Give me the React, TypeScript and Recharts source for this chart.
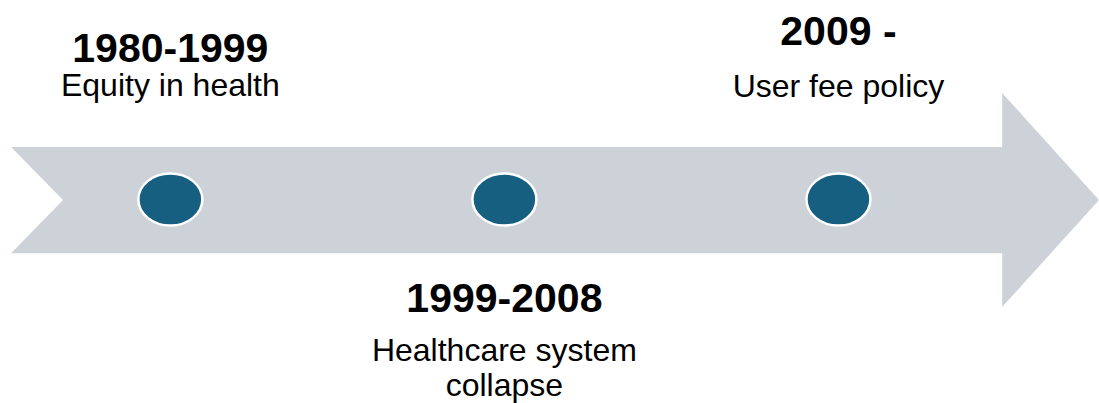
import { ComposedChart, Scatter, XAxis, YAxis, ReferenceArea } from "recharts";

// timeline milestones
const periods = ["1980-1999", "1999-2008", "2009 -"];
const descriptions = [["Equity in health"], ["Healthcare system", "collapse"], ["User fee policy"]];
const slots = [0, 1, 2];

const milestones = slots.map((slot, i) => ({
  slot,
  level: 0,
  period: periods[i],
  desc: descriptions[i],
}));

const ARROW = "#CDD2D9";
const DOT = "#175F81";
const FONT = "'Liberation Sans', Arial, sans-serif";

// label placement per milestone: title baseline / first desc line offsets from dot center
const labelOffsets = [
  { title: -137, desc: -103 },
  { title: 113, desc: 162 },
  { title: -154, desc: -102 },
];

function ArrowShape(props: any) {
  const { x, y, width, height } = props;
  const bodyTop = y + height * 0.252;
  const bodyBottom = y + height * 0.748;
  const headBase = x + width * 0.911;
  const mid = y + height / 2;
  const notch = 52;
  const pts = [
    [x, bodyTop],
    [headBase, bodyTop],
    [headBase, y],
    [x + width, mid],
    [headBase, y + height],
    [headBase, bodyBottom],
    [x, bodyBottom],
    [x + notch, mid],
  ]
    .map((p) => p.join(","))
    .join(" ");
  return <polygon points={pts} fill={ARROW} />;
}

function MilestoneShape(props: any) {
  const { cx, cy, payload, index } = props;
  const off = labelOffsets[index ?? payload.slot];
  return (
    <g>
      <ellipse cx={cx} cy={cy} rx={32} ry={26} fill={DOT} stroke="#fff" strokeWidth={2.5} />
      <text x={cx} y={cy + off.title} textAnchor="middle" fontFamily={FONT} fontSize={41} fontWeight="bold" fill="#000">
        {payload.period}
      </text>
      <text x={cx} y={cy + off.desc} textAnchor="middle" fontFamily={FONT} fontSize={32} fill="#000">
        {payload.desc.map((line: string, k: number) => (
          <tspan key={k} x={cx} dy={k === 0 ? 0 : 35}>
            {line}
          </tspan>
        ))}
      </text>
    </g>
  );
}

export default function App() {
  return (
    <div style={{ position: "absolute", left: 0, top: 0, background: "#fff" }}>
      <ComposedChart width={1099} height={403} margin={{ top: 0, right: 0, bottom: 0, left: 0 }}>
        <XAxis type="number" dataKey="slot" domain={[-0.51, 2.78]} hide allowDataOverflow />
        <YAxis type="number" dataKey="level" domain={[-1.01, 0.99]} hide allowDataOverflow />
        <ReferenceArea x1={-0.477} x2={2.78} y1={-0.534} y2={0.528} shape={<ArrowShape />} ifOverflow="visible" />
        <Scatter data={milestones} dataKey="level" isAnimationActive={false} shape={<MilestoneShape />} />
      </ComposedChart>
    </div>
  );
}
